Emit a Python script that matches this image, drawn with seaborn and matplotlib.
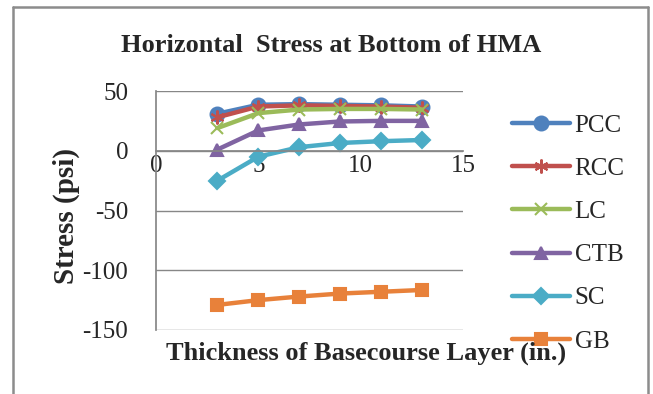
import matplotlib
matplotlib.use("Agg")
import matplotlib.pyplot as plt
import seaborn as sns
import pandas as pd
from matplotlib.lines import Line2D

thickness = [3, 5, 7, 9, 11, 13]
pcc = [31, 38.5, 39, 38.5, 38, 37]
rcc = [28, 37, 38, 37.5, 37, 36]
lc = [19, 31.5, 34.5, 35, 35, 34.5]
ctb = [1, 17, 22, 24.5, 25, 25]
sc = [-25, -5, 3, 6.5, 8, 9]
gb = [-129, -125, -122, -119.5, -118, -116.5]
series_names = ["PCC", "RCC", "LC", "CTB", "SC", "GB"]
series_values = [pcc, rcc, lc, ctb, sc, gb]
x_ticks = [0, 5, 10, 15]
y_ticks = [-150, -100, -50, 0, 50]

colors = ["#4F81BD", "#C0504D", "#9BBB59", "#8064A2", "#4BACC6", "#E8813A"]
markers = ["o", (6, 2, 0), "x", "^", "D", "s"]
msizes = [10, 10, 9, 9, 8, 9]

sns.set_theme(style="white")
plt.rcParams["font.family"] = ["Liberation Serif", "DejaVu Serif"]
plt.rcParams["axes.unicode_minus"] = False

fig = plt.figure(figsize=(6.53, 3.94), dpi=100)
ax = fig.add_axes([156/653, 1-330/394, (463-156)/653, (330-91)/394])

for name, vals, c, m, ms in zip(series_names, series_values, colors, markers, msizes):
    df = pd.DataFrame({"x": thickness, "y": vals})
    sns.lineplot(data=df, x="x", y="y", ax=ax, color=c, marker=m, markersize=ms,
                 linewidth=3.2, markeredgecolor=c, markeredgewidth=1.5, label=name)

ax.set_xlim(0, 15)
ax.set_ylim(-150, 50)
ax.set_xticks(x_ticks)
ax.set_yticks(y_ticks)
ax.set_xticklabels([str(v) for v in x_ticks])
ax.set_yticklabels([str(v) for v in y_ticks])
for yv in y_ticks:
    ax.axhline(yv, color="#878787", lw=1, zorder=0)
for s in ["top", "right"]:
    ax.spines[s].set_visible(False)
ax.spines["left"].set_color("#878787")
ax.spines["bottom"].set_color("#878787")
ax.spines["bottom"].set_position(("data", 0))
ax.tick_params(axis="x", length=0, pad=3, labelsize=18)
ax.tick_params(axis="y", length=0, pad=20, labelsize=18)
ax.set_xlabel("")
ax.set_ylabel("")

fig.text(331/653, 1-45/394, "Horizontal  Stress at Bottom of HMA", ha="center", va="center",
         fontsize=19, fontweight="bold")
fig.text(366/653, 1-353/394, "Thickness of Basecourse Layer (in.)", ha="center", va="center",
         fontsize=19, fontweight="bold")
fig.text(66/653, 1-216/394, "Stress (psi)", ha="center", va="center", rotation=90,
         fontsize=21, fontweight="bold")

leg = ax.legend(loc="upper left", bbox_to_anchor=(512/653, 1-114/394), bbox_transform=fig.transFigure,
                frameon=False, fontsize=18, labelspacing=0.83, handlelength=2.3,
                handletextpad=0.2, borderaxespad=0, borderpad=0)

# chart area border (left, top, right edges visible)
border_color = "#8c8c8c"
fig.add_artist(Line2D([13/653, 13/653], [0, 1-7/394], transform=fig.transFigure, color=border_color, lw=1.8))
fig.add_artist(Line2D([13/653, 648/653], [1-7/394, 1-7/394], transform=fig.transFigure, color=border_color, lw=1.8))
fig.add_artist(Line2D([648/653, 648/653], [0, 1-7/394], transform=fig.transFigure, color=border_color, lw=1.8))

fig.savefig("out.png", dpi=100)
